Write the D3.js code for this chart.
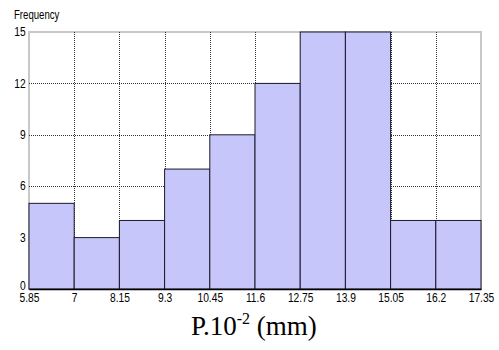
<!DOCTYPE html>
<html>
<head>
<meta charset="utf-8">
<script src="https://cdn.jsdelivr.net/npm/d3@7/dist/d3.min.js"></script>
<style>
  html, body { margin: 0; padding: 0; background: #fff; }
  svg { display: block; }
  .tick text { font-family: "Liberation Sans", Arial, sans-serif; }
</style>
</head>
<body>
<svg id="chart" width="499" height="350"></svg>
<script>
// Histogram of P (×10⁻² mm): bin edges and counts per bin
const binEdges = [5.85, 7, 8.15, 9.3, 10.45, 11.6, 12.75, 13.9, 15.05, 16.2, 17.35];
const counts = [5, 3, 4, 7, 9, 12, 15, 15, 4, 4];
const yTicks = [0, 3, 6, 9, 12, 15];
const xTickLabels = ["5.85", "7", "8.15", "9.3", "10.45", "11.6", "12.75", "13.9", "15.05", "16.2", "17.35"];

const bins = counts.map((c, i) => ({ x0: binEdges[i], x1: binEdges[i + 1], count: c }));

const svg = d3.select("#chart");
const plot = { left: 29, right: 481, top: 32, bottom: 289 };

const x = d3.scaleLinear().domain([binEdges[0], binEdges[binEdges.length - 1]]).range([plot.left, plot.right]);
const y = d3.scaleLinear().domain([0, 15]).range([plot.bottom, plot.top]);

// frame: light gray edges around the plot area
svg.append("rect")
  .attr("x", plot.left).attr("y", plot.top)
  .attr("width", plot.right - plot.left).attr("height", plot.bottom - plot.top)
  .attr("fill", "#fff").attr("stroke", "#c8c8c8").attr("stroke-width", 2);

// dotted grid
const grid = svg.append("g").attr("stroke", "#333").attr("stroke-width", 1).attr("stroke-dasharray", "1,1");
grid.selectAll("line.v").data(binEdges.slice(1, -1)).join("line")
  .attr("x1", d => Math.round(x(d)) + 0.5).attr("x2", d => Math.round(x(d)) + 0.5)
  .attr("y1", plot.top).attr("y2", plot.bottom);
grid.selectAll("line.h").data(yTicks.slice(1, -1)).join("line")
  .attr("x1", plot.left).attr("x2", plot.right)
  .attr("y1", d => Math.round(y(d)) + 0.5).attr("y2", d => Math.round(y(d)) + 0.5);

// bars
svg.append("g").selectAll("rect").data(bins).join("rect")
  .attr("x", d => x(d.x0))
  .attr("y", d => y(d.count))
  .attr("width", d => x(d.x1) - x(d.x0))
  .attr("height", d => y(0) - y(d.count))
  .attr("fill", "#c6c6fb")
  .attr("stroke", "#1a1a2a")
  .attr("stroke-width", 1);

// axes (tick labels drawn slightly condensed)
const xAxis = d3.axisBottom(x).tickValues(binEdges)
  .tickFormat((d, i) => xTickLabels[i]).tickSize(0).tickPadding(4);
const gx = svg.append("g").attr("transform", `translate(0,${plot.bottom})`).call(xAxis);
gx.select(".domain").attr("stroke", "#000").attr("stroke-width", 1.5);
gx.selectAll(".tick text").attr("font-size", 12.5).attr("fill", "#000")
  .attr("transform", "scale(0.82,1)");

const yAxis = d3.axisLeft(y).tickValues(yTicks).tickSize(0).tickPadding(4);
const gy = svg.append("g").attr("transform", `translate(${plot.left},0)`).call(yAxis);
gy.select(".domain").remove();
gy.selectAll(".tick text").attr("font-size", 12.5).attr("fill", "#000")
  .attr("dy", d => d === 0 ? "0.05em" : "0.3em").attr("transform", "scale(0.82,1)");

// labels
svg.append("text")
  .attr("transform", "translate(14,19) scale(0.8,1)")
  .attr("font-family", "'Liberation Sans', Arial, sans-serif")
  .attr("font-size", 12).attr("fill", "#000")
  .text("Frequency");

const title = svg.append("text")
  .attr("x", 191).attr("y", 335)
  .attr("font-family", "'Liberation Serif', 'Times New Roman', serif")
  .attr("font-size", 27).attr("fill", "#000");
title.append("tspan").text("P.10");
title.append("tspan").attr("font-size", 16).attr("dy", -11).text("-2");
title.append("tspan").attr("dy", 11).text(" (mm)");
</script>
</body>
</html>
